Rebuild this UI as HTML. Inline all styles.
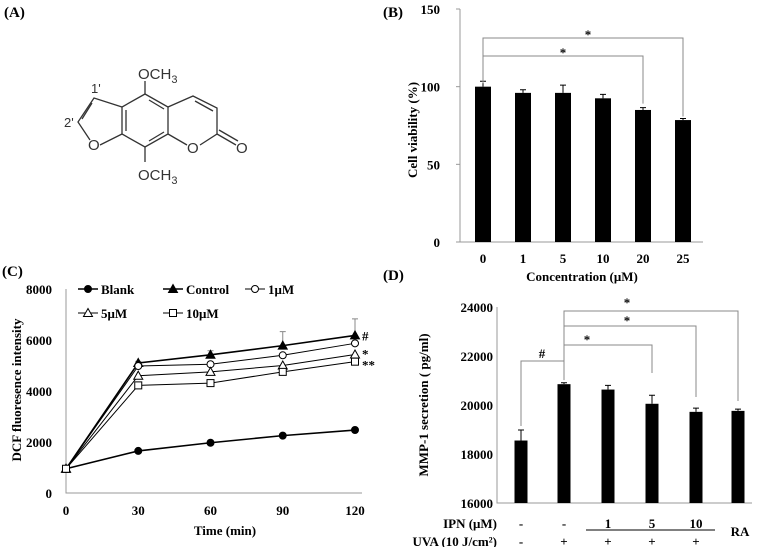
<!DOCTYPE html>
<html><head><meta charset="utf-8"><style>
html,body{margin:0;padding:0;background:#fff}
svg{display:block;font-family:"Liberation Serif",serif;font-weight:bold}
</style></head><body>
<svg id="fig" width="760" height="547" viewBox="0 0 760 547" xmlns="http://www.w3.org/2000/svg">
<!-- Panel A -->
<g stroke="#333" stroke-width="1.3" fill="none" font-family="Liberation Sans, sans-serif" font-weight="normal">
<text x="4" y="17" font-family="Liberation Serif, serif" font-weight="bold" font-size="15" fill="#000" stroke="none">(A)</text>
<polyline points="145,94 168,107 168,134 145,147 122,134 122,107 145,94"/>
<line x1="149" y1="100" x2="164" y2="109"/><line x1="126" y1="110" x2="126" y2="131"/><line x1="149" y1="141" x2="164" y2="132"/>
<line x1="145" y1="94" x2="145" y2="81"/><line x1="145" y1="147" x2="145" y2="162"/>
<polyline points="122,107 94,98 78,122 90,140"/><line x1="100" y1="145" x2="122" y2="134"/>
<line x1="92" y1="103" x2="82" y2="119"/>
<polyline points="168,107 193,96 217,108 217,134 200,145"/><line x1="187" y1="145" x2="168" y2="134"/>
<line x1="195" y1="101" x2="213" y2="111"/>
<line x1="217" y1="134" x2="236" y2="145"/><line x1="219" y1="130" x2="238" y2="141"/>
<g fill="#333" stroke="none" font-size="15">
<text x="138" y="79">OCH<tspan font-size="11" dy="4">3</tspan></text>
<text x="138" y="180">OCH<tspan font-size="11" dy="4">3</tspan></text>
<text x="88" y="150">O</text><text x="187" y="153">O</text><text x="236" y="153">O</text>
<text x="91" y="93" font-size="13">1'</text><text x="64" y="127" font-size="13">2'</text>
</g></g>

<!-- Panel B -->
<g id="pb">
<text x="383" y="17" font-size="15">(B)</text>
</g>
<!-- Panel C -->
<g id="pc">
<text x="2" y="276" font-size="15">(C)</text>
</g>
<!-- Panel D -->
<g id="pd">
<text x="383" y="280" font-size="15">(D)</text>
</g>
</svg>
<script>
const NS="http://www.w3.org/2000/svg";
// Panel B data
const bCats=["0","1","5","10","20","25"];
const bVals=[100,96,96,92.5,85,78.5];
const bErr=[3.5,2,5,2.5,1.5,1];
const bTicks=[0,50,100,150];
// Panel C data
const cTimes=[0,30,60,90,120];
const cBlank=[950,1650,1970,2250,2470];
const cControl=[950,5100,5420,5780,6180];
const c1uM=[950,4980,5050,5400,5870];
const c5uM=[950,4600,4750,5000,5430];
const c10uM=[950,4220,4310,4750,5150];
const cControlErr=[0,60,160,550,650];
const cTicks=[0,2000,4000,6000,8000];
// Panel D data
const dVals=[18550,20850,20630,20050,19720,19760];
const dErr=[430,60,170,350,150,70];
const dTicks=[16000,18000,20000,22000,24000];
const dIPN=["-","-","1","5","10"];
const dUVA=["-","+","+","+","+"];

function el(parent,tag,attrs,text){const e=document.createElementNS(NS,tag);for(const k in attrs)e.setAttribute(k,attrs[k]);if(text!==undefined)e.textContent=text;parent.appendChild(e);return e;}

// ---------- B ----------
(function(){
const g=document.getElementById('pb');
const x0=460,x1=703,yB=242,yT=9;
const y=v=>yB-(v/150)*(yB-yT);
const xc=i=>483+i*40;
const ax=el(g,'path',{d:`M${x0},${yT} V${yB} H${x1}`,stroke:'#999',fill:'none','stroke-width':1});

bTicks.forEach(t=>{const tx=el(g,'text',{x:x0-20,y:y(t)+5,'font-size':13,'text-anchor':'end'},t);

el(g,'line',{x1:x0-4,x2:x0,y1:y(t),y2:y(t),stroke:'#999'});});
bVals.forEach((v,i)=>{
const r=el(g,'rect',{x:xc(i)-8,y:y(v),width:16,height:yB-y(v),fill:'#000'});

const ey=y(v+bErr[i]);
el(g,'path',{d:`M${xc(i)},${y(v)} V${ey} M${xc(i)-3},${ey} H${xc(i)+3}`,stroke:'#000','stroke-width':1,fill:'none'});
const t=el(g,'text',{x:xc(i),y:263,'font-size':13,'text-anchor':'middle'},bCats[i]);

});
const yt=el(g,'text',{x:0,y:0,'font-size':13,'text-anchor':'middle',transform:`translate(417,130) rotate(-90)`},'Cell viability (%)');

const xt=el(g,'text',{x:582,y:281,'font-size':13,'text-anchor':'middle'},'Concentration (\u03bcM)');

el(g,'path',{d:`M${xc(0)},${y(103.5)+2} V38 H${xc(5)} V${y(79.5)-2}`,stroke:'#888',fill:'none'});
el(g,'path',{d:`M${xc(0)},56 H${xc(4)} V${y(86.5)-4}`,stroke:'#888',fill:'none'});
el(g,'text',{x:588,y:39,'font-size':13,'text-anchor':'middle'},'*');
el(g,'text',{x:563,y:57,'font-size':13,'text-anchor':'middle'},'*');
})();

// ---------- C ----------
(function(){
const g=document.getElementById('pc');
const x0=66,x1=362,yB=493,yT=289;
const x=t=>x0+(t/120)*(355-x0);
const y=v=>yB-(v/8000)*(yB-yT);
const ax=el(g,'path',{d:`M${x0},${yT} V${yB} H${x1}`,stroke:'#999',fill:'none'});

cTicks.forEach(t=>{const tx=el(g,'text',{x:52,y:y(t)+5,'font-size':13,'text-anchor':'end'},t);
});
cTimes.forEach(t=>{const tx=el(g,'text',{x:x(t),y:515,'font-size':13,'text-anchor':'middle'},t);
});
const yt=el(g,'text',{x:0,y:0,'font-size':13,'text-anchor':'middle',transform:`translate(21,390) rotate(-90)`},'DCF fluoresence intensity');

const xt=el(g,'text',{x:225,y:535,'font-size':13,'text-anchor':'middle'},'Time (min)');

// control error bars
cTimes.forEach((t,i)=>{if(cControlErr[i]>0){const ey=y(cControl[i]+cControlErr[i]);
el(g,'path',{d:`M${x(t)},${y(cControl[i])} V${ey} M${x(t)-3},${ey} H${x(t)+3}`,stroke:'#888',fill:'none'});}});
function marker(gr,type,cx,cy,fill){
if(type==='c')return el(gr,'circle',{cx,cy,r:3.5,fill,stroke:'#000'});
if(type==='t')return el(gr,'path',{d:`M${cx},${cy-4.5} L${cx+4.5},${cy+3.5} L${cx-4.5},${cy+3.5}Z`,fill,stroke:'#000'});
return el(gr,'rect',{x:cx-3.5,y:cy-3.5,width:7,height:7,fill,stroke:'#000'});}
const series=[['blank',cBlank,'c','#000','Blank'],['control',cControl,'t','#000','Control'],['1um',c1uM,'c','#fff','1\u03bcM'],['5um',c5uM,'t','#fff','5\u03bcM'],['10um',c10uM,'s','#fff','10\u03bcM']];
series.forEach(s=>{
const sg=el(g,'g',{});

el(sg,'polyline',{points:cTimes.map((t,i)=>x(t)+','+y(s[1][i])).join(' '),fill:'none',stroke:'#000','stroke-width':s[3]==='#000'?1.6:1});
cTimes.forEach((t,i)=>{const m=marker(sg,s[2],x(t),y(s[1][i]),s[3]);
});
});
el(g,'text',{x:x(120)+7,y:y(cControl[4])+5,'font-size':13},'#');
el(g,'text',{x:x(120)+7,y:y(c5uM[4])+4,'font-size':13},'*');
el(g,'text',{x:x(120)+7,y:y(c10uM[4])+8,'font-size':13},'**');
const leg=[[78,289],[163,289],[245,289],[78,313],[163,313]];
series.forEach((s,i)=>{const [lx,ly]=leg[i];
const lg=el(g,'g',{});

el(lg,'line',{x1:lx,x2:lx+20,y1:ly,y2:ly,stroke:'#000','stroke-width':s[3]==='#000'?1.6:1});
marker(lg,s[2],lx+10,ly,s[3]);
el(lg,'text',{x:lx+23,y:ly+5,'font-size':13},s[4]);});
})();

// ---------- D ----------
(function(){
const g=document.getElementById('pd');
const x0=497,x1=752,yB=503,yT=307;
const y=v=>yB-((v-16000)/8000)*(yB-yT);
const xs=[521,564,608,652,696,738];
const ax=el(g,'path',{d:`M${x0},${yT} V${yB} H${x1}`,stroke:'#999',fill:'none'});

dTicks.forEach(t=>{const tx=el(g,'text',{x:x0-4,y:y(t)+5,'font-size':13,'text-anchor':'end'},t);
});
dVals.forEach((v,i)=>{
const r=el(g,'rect',{x:xs[i]-6.5,y:y(v),width:13,height:yB-y(v),fill:'#000'});

const ey=y(v+dErr[i]);
el(g,'path',{d:`M${xs[i]},${y(v)} V${ey} M${xs[i]-3},${ey} H${xs[i]+3}`,stroke:'#000',fill:'none'});});
const yt=el(g,'text',{x:0,y:0,'font-size':13,'text-anchor':'middle',transform:`translate(428,405) rotate(-90)`},'MMP-1 secretion ( pg/ml)');

const xt=el(g,'text',{x:582,y:281,'font-size':13,'text-anchor':'middle'},'');
el(g,'text',{x:497,y:528,'font-size':13,'text-anchor':'end'},'IPN  (\u03bcM)');
el(g,'text',{x:497,y:546,'font-size':13,'text-anchor':'end'},'UVA (10 J/cm\u00b2)');
dIPN.forEach((t,i)=>el(g,'text',{x:xs[i],y:528,'font-size':13,'text-anchor':'middle'},t));
dUVA.forEach((t,i)=>el(g,'text',{x:xs[i],y:546,'font-size':13,'text-anchor':'middle'},t));
el(g,'line',{x1:586,x2:715,y1:530,y2:530,stroke:'#000'});
el(g,'text',{x:740,y:536,'font-size':13,'text-anchor':'middle'},'RA');
const br=el(g,'path',{d:`M${xs[0]},${y(dVals[0]+dErr[0])-4} V361 H${xs[1]} V364 M${xs[1]},${y(dVals[1])-4} V311 H${xs[5]} V401 M${xs[1]},326 H${xs[4]} V397 M${xs[1]},345 H${xs[3]} V373`,stroke:'#888',fill:'none'});

el(g,'text',{x:542,y:358,'font-size':13,'text-anchor':'middle'},'#');
el(g,'text',{x:627,y:307,'font-size':13,'text-anchor':'middle'},'*');
el(g,'text',{x:627,y:325,'font-size':13,'text-anchor':'middle'},'*');
el(g,'text',{x:587,y:344,'font-size':13,'text-anchor':'middle'},'*');
})();
</script>
</body></html>
